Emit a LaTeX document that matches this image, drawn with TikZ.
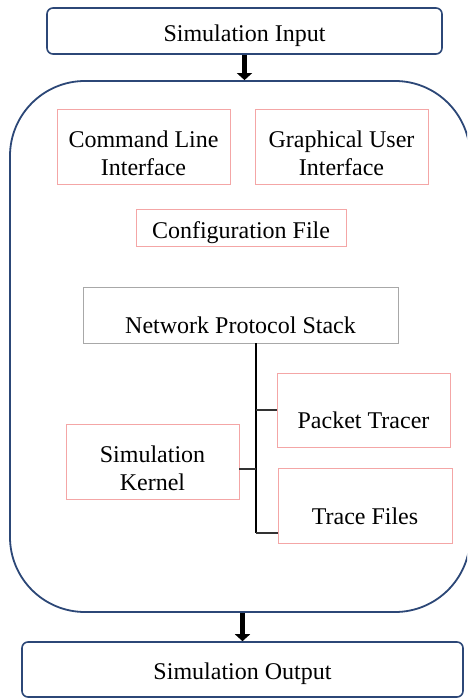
\documentclass[tikz,border=0pt]{standalone}
\usepackage{fontspec}
\setmainfont{Liberation Serif}
\usetikzlibrary{arrows.meta,calc}
\definecolor{navy}{HTML}{2C4777}
\definecolor{pinkline}{HTML}{F4A6A6}
\definecolor{grayline}{HTML}{A8A8A8}
\definecolor{branch}{HTML}{333333}
\begin{document}
\begin{tikzpicture}[x=1pt,y=-1pt,
  every node/.style={font=\fontsize{24}{27.6}\selectfont, inner sep=0pt},
  outer/.style={draw=navy, line width=1.6pt, fill=white, rounded corners=6pt},
  container/.style={draw=navy, line width=1.8pt, fill=white, rounded corners=75pt},
  pinkbox/.style={draw=pinkline, line width=0.9pt, fill=white},
  graybox/.style={draw=grayline, line width=0.9pt, fill=white},
  trunk/.style={line width=2.6pt, black},
  twig/.style={line width=1.8pt, branch},
  bigarrow/.style={line width=5pt, black, -{Triangle[width=15pt,length=7pt]}}
]
\clip (0,0) rectangle (467,698);
\fill[white] (0,0) rectangle (467,698);

% top input
\node[outer, minimum width=395pt, minimum height=46pt, text height=26pt, text depth=4pt] (si) at (244.5,31) {Simulation Input};

% container
\node[container, minimum width=460pt, minimum height=531pt] (core) at (240,346.5) {};

% arrows
\draw[bigarrow] (si.south) -- (si.south |- core.north);

% inner boxes
\node[pinkbox, minimum width=173pt, minimum height=75pt,
  label={[name=cli-t, align=center, yshift=-6.5pt]center:Command Line\\Interface}] (cli) at (143.5,146.5) {};
\node[pinkbox, minimum width=173pt, minimum height=75pt,
  label={[name=gui-t, align=center, yshift=-6.5pt]center:Graphical User\\Interface}] (gui) at (341.5,146.5) {};
\node[pinkbox, minimum width=210pt, minimum height=37pt, text height=25pt, text depth=4pt] (cfg) at (241,227.5) {Configuration File};
\node[graybox, minimum width=315pt, minimum height=56pt, text height=40pt, text depth=4pt] (nps) at (240.5,315) {Network Protocol Stack};
\node[pinkbox, minimum width=173pt, minimum height=74pt, text height=40pt, text depth=4pt] (pt) at (363.5,410) {Packet Tracer};
\node[pinkbox, minimum width=174pt, minimum height=75pt, text height=41pt, text depth=4pt] (tf) at (365,505.5) {Trace Files};
\node[pinkbox, minimum width=173pt, minimum height=75pt,
  label={[name=sk-t, align=center, yshift=-7pt]center:Simulation\\Kernel}] (sk) at (152.5,461.5) {};

% tree connectors
\coordinate (ttop) at ($(nps.south)+(15.5,0)$);
\coordinate (tbot) at (ttop |- 0,533);
\coordinate (skj) at ($(sk.east)+(0,7.5)$);
\draw[trunk] (ttop) -- (tbot);
\draw[twig] (tbot) -- (tf.west |- tbot);
\draw[twig] (pt.west) -- (pt.west -| ttop);
\draw[twig] (skj) -- (skj -| ttop);

% output
\node[outer, minimum width=441pt, minimum height=55pt, text height=23pt, text depth=4pt] (so) at (242.5,669.5) {Simulation Output};
\draw[bigarrow] (core.south -| so.north) -- (so.north);
\end{tikzpicture}
\end{document}
